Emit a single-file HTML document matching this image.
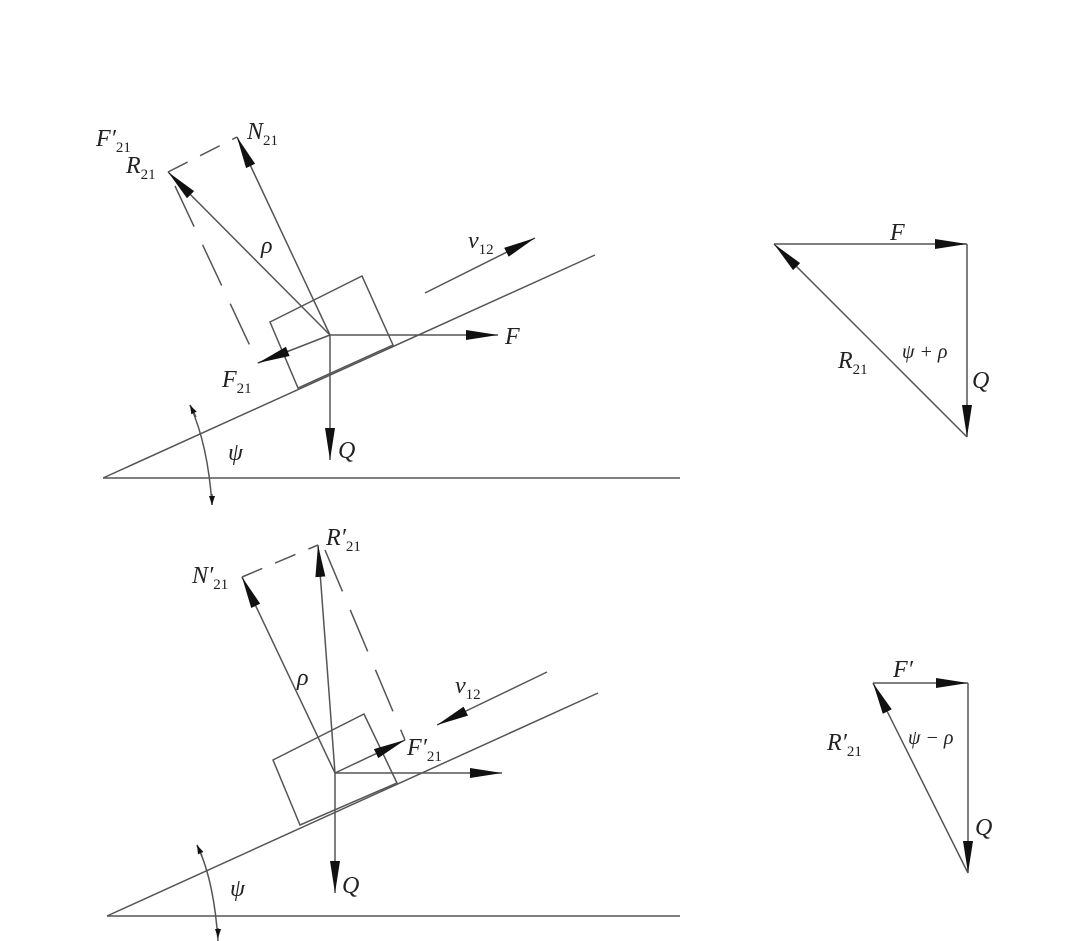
<!DOCTYPE html>
<html><head><meta charset="utf-8"><style>
html,body{margin:0;padding:0;background:#fff;}
svg{display:block;}
text{font-family:"Liberation Serif",serif;font-style:italic;fill:#222;}
.s{font-size:15px;font-style:normal;}
</style></head><body>
<svg width="1080" height="941" viewBox="0 0 1080 941" xmlns="http://www.w3.org/2000/svg">
<defs>
<marker id="a" markerUnits="userSpaceOnUse" markerWidth="34" markerHeight="14" refX="32" refY="7" orient="auto">
<path d="M0,2 L32,7 L0,12 Z" fill="#111"/>
</marker>
<marker id="b" markerUnits="userSpaceOnUse" markerWidth="10" markerHeight="8" refX="9" refY="4" orient="auto">
<path d="M0,1 L9,4 L0,7 Z" fill="#111"/>
</marker>
</defs>
<g stroke="#555" stroke-width="1.5" fill="none">
<line x1="103" y1="478" x2="680" y2="478"/>
<line x1="103" y1="478" x2="595" y2="255"/>
<polygon points="270,322 362,276 393,345 298,388"/>
<line x1="425" y1="293" x2="535" y2="238" marker-end="url(#a)"/>
<line x1="330" y1="335" x2="498" y2="335" marker-end="url(#a)"/>
<line x1="330" y1="335" x2="330" y2="460" marker-end="url(#a)"/>
<line x1="330" y1="335" x2="237" y2="137" marker-end="url(#a)"/>
<line x1="330" y1="335" x2="168" y2="172" marker-end="url(#a)"/>
<line x1="330" y1="335" x2="258" y2="363" marker-end="url(#a)"/>
<line x1="168" y1="172" x2="237" y2="137" stroke-dasharray="22,14"/>
<line x1="175" y1="186" x2="258" y2="363" stroke-dasharray="45,20"/>
<path d="M190,405 Q208,445 212,505"/>
<line x1="196" y1="417" x2="190" y2="405" marker-end="url(#b)"/>
<line x1="212" y1="494" x2="212" y2="505" marker-end="url(#b)"/>
<line x1="107" y1="916" x2="680" y2="916"/>
<line x1="107" y1="916" x2="598" y2="693"/>
<polygon points="273,760 364,714 397,783 300,825"/>
<line x1="547" y1="672" x2="437" y2="725" marker-end="url(#a)"/>
<line x1="335" y1="773" x2="502" y2="773" marker-end="url(#a)"/>
<line x1="335" y1="773" x2="335" y2="893" marker-end="url(#a)"/>
<line x1="335" y1="773" x2="318" y2="545" marker-end="url(#a)"/>
<line x1="335" y1="773" x2="242" y2="577" marker-end="url(#a)"/>
<line x1="335" y1="773" x2="405" y2="740" marker-end="url(#a)"/>
<line x1="242" y1="577" x2="318" y2="545" stroke-dasharray="22,14"/>
<line x1="325" y1="550" x2="405" y2="740" stroke-dasharray="45,20"/>
<path d="M197,845 Q214,880 218,941"/>
<line x1="202" y1="856" x2="197" y2="845" marker-end="url(#b)"/>
<line x1="218" y1="928" x2="218" y2="938" marker-end="url(#b)"/>
<line x1="774" y1="244" x2="967" y2="244" marker-end="url(#a)"/>
<line x1="967" y1="244" x2="967" y2="437" marker-end="url(#a)"/>
<line x1="967" y1="437" x2="774" y2="244" marker-end="url(#a)"/>
<line x1="873" y1="683" x2="968" y2="683" marker-end="url(#a)"/>
<line x1="968" y1="683" x2="968" y2="873" marker-end="url(#a)"/>
<line x1="968" y1="873" x2="873" y2="683" marker-end="url(#a)"/>
</g>
<text x="96" y="146" font-size="24">F′<tspan class="s" dy="6">21</tspan></text>
<text x="126" y="173" font-size="24">R<tspan class="s" dy="6">21</tspan></text>
<text x="247" y="139" font-size="24">N<tspan class="s" dy="6">21</tspan></text>
<text x="261" y="253" font-size="24">ρ</text>
<text x="468" y="248" font-size="24">v<tspan class="s" dy="6">12</tspan></text>
<text x="505" y="344" font-size="24">F</text>
<text x="222" y="387" font-size="24">F<tspan class="s" dy="6">21</tspan></text>
<text x="338" y="458" font-size="24">Q</text>
<text x="228" y="460" font-size="24">ψ</text>
<text x="192" y="583" font-size="24">N′<tspan class="s" dy="6">21</tspan></text>
<text x="326" y="545" font-size="24">R′<tspan class="s" dy="6">21</tspan></text>
<text x="297" y="685" font-size="24">ρ</text>
<text x="455" y="693" font-size="24">v<tspan class="s" dy="6">12</tspan></text>
<text x="407" y="755" font-size="24">F′<tspan class="s" dy="6">21</tspan></text>
<text x="342" y="893" font-size="24">Q</text>
<text x="230" y="896" font-size="24">ψ</text>
<text x="890" y="240" font-size="24">F</text>
<text x="838" y="368" font-size="24">R<tspan class="s" dy="6">21</tspan></text>
<text x="902" y="358" font-size="20">ψ + ρ</text>
<text x="972" y="388" font-size="24">Q</text>
<text x="893" y="677" font-size="24">F′</text>
<text x="827" y="750" font-size="24">R′<tspan class="s" dy="6">21</tspan></text>
<text x="908" y="744" font-size="20">ψ − ρ</text>
<text x="975" y="835" font-size="24">Q</text>
</svg>
</body></html>
